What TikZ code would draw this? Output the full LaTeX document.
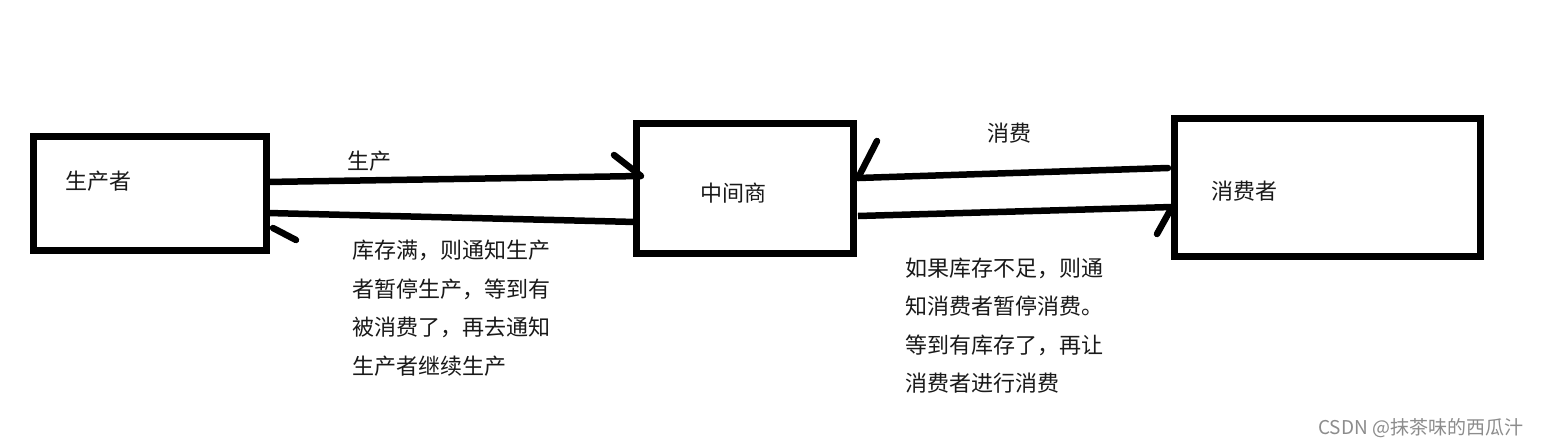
\documentclass[tikz,border=0pt]{standalone}
\usepackage{fontspec}
\setmainfont{Noto Sans CJK SC}
\newfontfamily\cjk{Noto Sans CJK SC}
\begin{document}
\begin{tikzpicture}[x=1pt,y=-1pt,
  boxnode/.style={draw=black,line width=7pt,inner sep=0pt,outer sep=0pt},
  conn/.style={line width=6.5pt,line cap=butt},
  headstroke/.style={line width=6.5pt,line cap=round},
  lbl/.style={font=\cjk\fontsize{22}{26}\selectfont,inner sep=0pt,anchor=west,text=black!90},
  wm/.style={font=\cjk\fontsize{19}{22}\selectfont,inner sep=0pt,anchor=west,text=black!45}]
\useasboundingbox[fill=white] (0,0) rectangle (1544,445);
% boxes
\node[boxnode,minimum width=233pt,minimum height=114pt] (prod) at (149.5,193) {};
\node[boxnode,minimum width=217pt,minimum height=130pt] (mid) at (744.5,188) {};
\node[boxnode,minimum width=306pt,minimum height=138pt] (cons) at (1327,187) {};
% box labels
\node[lbl] (prodt) at (65,181) {生产者};
\node[lbl] (midt) at (700,193) {中间商};
\node[lbl] (const) at (1211,191) {消费者};
% connector end points
\coordinate (p1) at ([yshift=11pt]prod.east);
\coordinate (m1) at ([xshift=5pt,yshift=12pt]mid.west);
\coordinate (m1h) at (614,155);
\coordinate (m2) at ([yshift=-34pt]mid.west);
\coordinate (p2) at ([xshift=2pt,yshift=-20pt]prod.east);
\coordinate (p2h1) at (273,228);
\coordinate (p2h2) at (296,240);
\coordinate (c1) at ([xshift=-6pt,yshift=19pt]cons.west);
\coordinate (m3) at ([xshift=5pt,yshift=10pt]mid.east);
\coordinate (m3h) at (877,141);
\coordinate (m4) at ([xshift=5pt,yshift=-28pt]mid.east);
\coordinate (c2) at ([xshift=-2pt,yshift=-20pt]cons.west);
\coordinate (c2h) at (1157,234);
% connectors
\draw[conn] (p1) -- (m1);
\draw[headstroke] (m1h) -- (m1);
\draw[conn] (m2) -- (p2);
\draw[headstroke] (p2h1) -- (p2h2);
\draw[conn,line cap=round] (c1) -- (m3);
\draw[headstroke] (m3h) -- (m3);
\draw[conn] (m4) -- (c2);
\draw[headstroke] (c2) -- (c2h);
% edge labels
\node[lbl] (l1) at (347,161) {生产};
\node[lbl] (l2) at (987,133) {消费};
\node[lbl] (b1a) at (352,250) {库存满，则通知生产};
\node[lbl] (b1b) at (352,289) {者暂停生产，等到有};
\node[lbl] (b1c) at (352,327) {被消费了，再去通知};
\node[lbl] (b1d) at (352,366) {生产者继续生产};
\node[lbl] (b2a) at (905,268) {如果库存不足，则通};
\node[lbl] (b2b) at (905,306) {知消费者暂停消费。};
\node[lbl] (b2c) at (905,345) {等到有库存了，再让};
\node[lbl] (b2d) at (905,383) {消费者进行消费};
% watermark
\node[wm] (w) at (1318,428) {CSDN @抹茶味的西瓜汁};
\end{tikzpicture}
\end{document}
